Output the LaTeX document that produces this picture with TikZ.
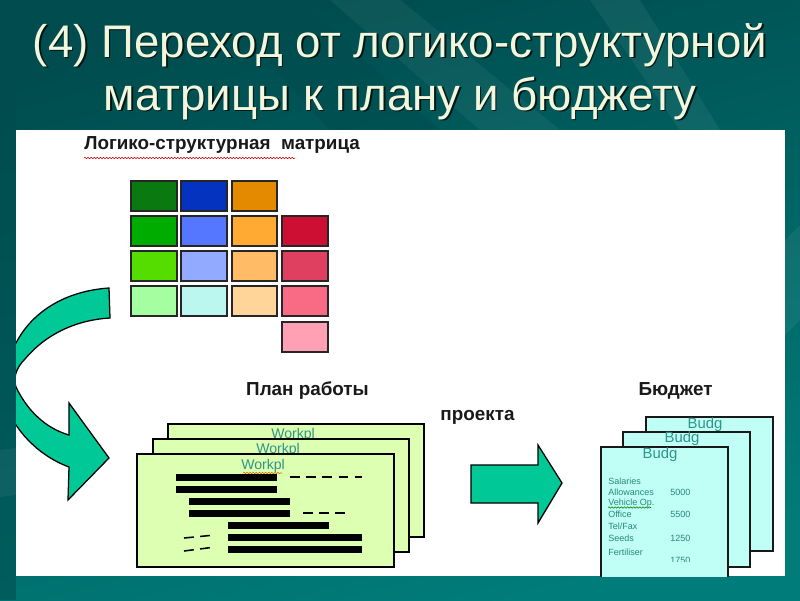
\documentclass[tikz,border=0pt]{standalone}
\usepackage{fontspec}
\setmainfont{Liberation Sans}
\usetikzlibrary{decorations.pathmorphing}
\definecolor{slidedark}{HTML}{004C4E}
\definecolor{slidelight}{HTML}{007C7A}
\definecolor{titlecream}{HTML}{F2F6DC}
\definecolor{arrowgreen}{HTML}{00C896}
\definecolor{planpage}{HTML}{DDFFB2}
\definecolor{budgpage}{HTML}{C0FFF6}
\definecolor{pagetext}{HTML}{2F9488}
\tikzset{
	titletext/.style={text=titlecream, font=\fontsize{32.5}{36}\selectfont},
	titleshadow/.style={text=black!70!slidedark, font=\fontsize{32.5}{36}\selectfont},
	headtext/.style={font=\bfseries\fontsize{13.4}{15}\selectfont, text=black!90},
	cellbox/.style={draw=black!85, line width=0.9pt},
	bendarrow/.style={draw=black, line width=0.9pt, fill=arrowgreen},
	planbox/.style={draw=black, line width=2pt, fill=planpage},
	budgbox/.style={draw=black!90, line width=1.2pt, fill=budgpage},
	bar/.style={fill=black},
	gap/.style={line width=1.1pt, dash pattern=on 7pt off 4.5pt},
	worktext/.style={text=pagetext, font=\fontsize{10}{12}\selectfont, inner sep=0pt},
	budgtext/.style={text=pagetext, font=\fontsize{10.6}{12}\selectfont, inner sep=0pt},
	itemtext/.style={text=pagetext!90!black, font=\fontsize{6.4}{8}\selectfont, inner sep=0pt, anchor=west},
	squiggle/.style={decorate, decoration={snake, segment length=2.2pt, amplitude=0.5pt}, line width=0.4pt},
}
\begin{document}
\begin{tikzpicture}[x=0.025cm, y=-0.025cm]
	%%%%% BACKGROUND %%%%%
	\useasboundingbox (0, 0) rectangle (800, 600);
	\shade[bottom color=slidelight, top color=slidedark, shading angle=15] (0, 0) rectangle (800, 600);
	\fill[slidedark, opacity=0.55] (0, 0) rectangle (16, 600);
	\fill[slidedark, opacity=0.5] (210, 0) -- (300, 0) -- (440, 130) -- (330, 130) -- cycle;
	\fill[white, opacity=0.05] (330, 0) -- (400, 0) -- (560, 130) -- (480, 130) -- cycle;
	\fill[white, opacity=0.06] (590, 0) -- (640, 0) -- (720, 130) -- (680, 130) -- cycle;
	\fill[white, opacity=0.06] (785, 240) -- (800, 225) -- (800, 320) -- (785, 335) -- cycle;
	\fill[white, opacity=0.05] (0, 450) -- (16, 448) -- (16, 495) -- (0, 497) -- cycle;
	
	%%%%% TITLE %%%%%
	\node[titleshadow] (titleoneback) at (401.5, 46.5) {(4) Переход от логико-структурной};
	\node[titleshadow] (titletwoback) at (401.5, 99.5) {матрицы к плану и бюджету};
	\node[titletext] (titleone) at (400, 45) {(4) Переход от логико-структурной};
	\node[titletext] (titletwo) at (400, 98) {матрицы к плану и бюджету};
	
	\fill[white] (16, 130) rectangle (785, 576);
	
	%%%%% MATRIX %%%%%
	\node[headtext, inner sep=0pt, anchor=west] (matrixhead) at (84, 145) {Логико-структурная\ \ матрица};
	\draw[squiggle, red!80!black] (84, 158) -- (295, 158);
	
	\draw[cellbox, fill={rgb,255:red,10;green,122;blue,16}] (131, 181) rectangle (177, 211);
	\draw[cellbox, fill={rgb,255:red,4;green,51;blue,192}] (181, 181) rectangle (227, 211);
	\draw[cellbox, fill={rgb,255:red,227;green,138;blue,0}] (232, 181) rectangle (277, 211);
	
	\draw[cellbox, fill={rgb,255:red,0;green,172;blue,0}] (131, 216) rectangle (177, 246);
	\draw[cellbox, fill={rgb,255:red,85;green,119;blue,255}] (181, 216) rectangle (227, 246);
	\draw[cellbox, fill={rgb,255:red,255;green,170;blue,51}] (232, 216) rectangle (277, 246);
	\draw[cellbox, fill={rgb,255:red,204;green,15;blue,51}] (282, 216) rectangle (328, 246);
	
	\draw[cellbox, fill={rgb,255:red,85;green,221;blue,0}] (131, 251) rectangle (177, 281);
	\draw[cellbox, fill={rgb,255:red,146;green,170;blue,255}] (181, 251) rectangle (227, 281);
	\draw[cellbox, fill={rgb,255:red,255;green,187;blue,102}] (232, 251) rectangle (277, 281);
	\draw[cellbox, fill={rgb,255:red,224;green,64;blue,96}] (282, 251) rectangle (328, 281);
	
	\draw[cellbox, fill={rgb,255:red,165;green,255;blue,160}] (131, 286) rectangle (177, 316);
	\draw[cellbox, fill={rgb,255:red,187;green,247;blue,238}] (181, 286) rectangle (227, 316);
	\draw[cellbox, fill={rgb,255:red,255;green,213;blue,154}] (232, 286) rectangle (277, 316);
	\draw[cellbox, fill={rgb,255:red,249;green,106;blue,133}] (282, 286) rectangle (328, 316);
	
	\draw[cellbox, fill={rgb,255:red,255;green,160;blue,181}] (282, 322) rectangle (328, 352);
	
	%%%%% BENT ARROW %%%%%
	\begin{scope}
		\clip (16, 130) rectangle (785, 576);
		\draw[bendarrow] (109, 288) .. controls (65, 291) and (32, 312) .. (16, 343)
			.. controls (0, 375) and (-2, 400) .. (16, 425)
			.. controls (30, 446) and (50, 460) .. (69, 467)
			-- (68, 500) -- (109, 458) -- (69, 403) -- (69, 435)
			.. controls (45, 428) and (27, 410) .. (16, 387)
			.. controls (13, 378) and (16, 368) .. (25, 359)
			.. controls (45, 335) and (75, 320) .. (110, 318) -- cycle;
	\end{scope}
	
	%%%%% WORK PLAN %%%%%
	\node[headtext, inner sep=0pt] (planhead) at (307.5, 391) {План работы};
	\node[headtext, inner sep=0pt] (projecthead) at (477.5, 417) {проекта};
	
	\draw[planbox] (168, 424) rectangle (424, 537);
	\node[worktext] (workback) at (293, 435) {Workpl};
	\draw[planbox] (153, 439) rectangle (409, 552);
	\node[worktext] (workmid) at (278, 450) {Workpl};
	\draw[planbox] (137, 454) rectangle (394, 567);
	\node[worktext] (workfront) at (263, 466) {Workpl};
	\draw[squiggle, orange!80!black] (243, 473) -- (282, 473);
	
	\fill[bar] (176, 474) rectangle (277, 481);
	\fill[bar] (176, 486) rectangle (277, 493);
	\fill[bar] (189, 498) rectangle (290, 505);
	\fill[bar] (189, 510) rectangle (290, 517);
	\fill[bar] (228, 522) rectangle (329, 529);
	\fill[bar] (228, 534) rectangle (362, 541);
	\fill[bar] (228, 546) rectangle (362, 553);
	
	\draw[gap] (290, 477) -- (362, 477);
	\draw[gap] (303, 513) -- (349, 513);
	\draw[gap] (184, 538) -- (215, 535);
	\draw[gap] (184, 551) -- (215, 547);
	
	%%%%% STRAIGHT ARROW %%%%%
	\draw[bendarrow] (471, 465) -- (538, 465) -- (538, 445) -- (562, 483) -- (538, 523) -- (538, 503) -- (471, 503) -- cycle;
	
	%%%%% BUDGET %%%%%
	\node[headtext, inner sep=0pt] (budgethead) at (675.5, 391) {Бюджет};
	
	\begin{scope}
		\clip (16, 130) rectangle (785, 576);
		\draw[budgbox] (646, 417) rectangle (773, 551);
		\node[budgtext] (budgback) at (705, 425) {Budg};
		\draw[budgbox] (623, 432) rectangle (750, 567);
		\node[budgtext] (budgmid) at (682, 439) {Budg};
		\draw[budgbox] (601, 447) rectangle (728, 590);
		\node[budgtext] (budgfront) at (660, 455) {Budg};
		
		\node[itemtext] (salaries) at (608, 481) {Salaries};
		\node[itemtext] (allowances) at (608, 492) {Allowances};
		\node[itemtext] (vehicle) at (608, 503) {Vehicle Op.};
		\draw[squiggle, green!50!black] (608, 507.5) -- (651, 507.5);
		\node[itemtext] (office) at (608, 514) {Office};
		\node[itemtext] (telfax) at (608, 526) {Tel/Fax};
		\node[itemtext] (seeds) at (608, 538) {Seeds};
		\node[itemtext] (fertiliser) at (608, 552) {Fertiliser};
		\node[itemtext] (allowsum) at (670, 492) {5000};
		\node[itemtext] (officesum) at (670, 514) {5500};
		\node[itemtext] (seedssum) at (670, 538) {1250};
		\begin{scope}
			\clip (660, 540) rectangle (700, 561);
			\node[itemtext] (fertsum) at (670, 560) {1750};
		\end{scope}
	\end{scope}
	%%%%% END %%%%%
\end{tikzpicture}
\end{document}
